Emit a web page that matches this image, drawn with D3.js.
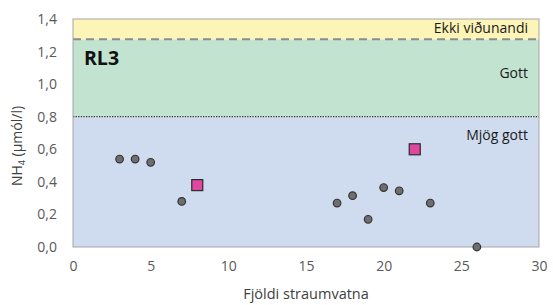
<!DOCTYPE html>
<html>
<head>
<meta charset="utf-8">
<script src="https://cdn.jsdelivr.net/npm/d3@7"></script>
<style>
  body { margin: 0; background: #fff; }
  text { font-family: "Open Sans", "Noto Sans", sans-serif; }
</style>
</head>
<body>
<div id="chart"></div>
<script>
// data
const siteX = [3, 4, 5, 7, 17, 18, 19, 20, 21, 23, 26];
const siteY = [0.54, 0.54, 0.52, 0.28, 0.27, 0.315, 0.17, 0.365, 0.345, 0.27, 0.0];
const refX = [8, 22];
const refY = [0.38, 0.6];
const xTicks = [0, 5, 10, 15, 20, 25, 30];
const yTicks = [0, 0.2, 0.4, 0.6, 0.8, 1.0, 1.2, 1.4];
const bands = [
    { from: 0, to: 0.8, color: '#cfdcef', label: 'Mjög gott' },
    { from: 0.8, to: 1.275, color: '#c2e3cf', label: 'Gott' },
    { from: 1.275, to: 1.4, color: '#fdf4b8', label: 'Ekki viðunandi' }
];

const width = 553, height = 305;
const margin = { top: 19, right: 14, bottom: 58, left: 73 };

const svg = d3.select('#chart').append('svg')
    .attr('width', width)
    .attr('height', height);

const x = d3.scaleLinear().domain([0, 30]).range([margin.left, width - margin.right]);
const y = d3.scaleLinear().domain([0, 1.4]).range([height - margin.bottom, margin.top]);

// background bands
svg.selectAll('rect.band')
    .data(bands)
    .enter()
    .append('rect')
    .attr('class', 'band')
    .attr('x', x(0))
    .attr('width', x(30) - x(0))
    .attr('y', d => y(d.to))
    .attr('height', d => y(d.from) - y(d.to))
    .attr('fill', d => d.color);

// border lines between bands
svg.append('line')
    .attr('x1', x(0)).attr('x2', x(30))
    .attr('y1', y(0.8)).attr('y2', y(0.8))
    .attr('stroke', '#333').attr('stroke-width', 1.3)
    .attr('stroke-dasharray', '1.3,1.3');
svg.append('line')
    .attr('x1', x(0)).attr('x2', x(30))
    .attr('y1', y(1.275)).attr('y2', y(1.275))
    .attr('stroke', '#8c8c8c').attr('stroke-width', 2)
    .attr('stroke-dasharray', '8,5');

// frame
svg.append('rect')
    .attr('x', x(0)).attr('y', y(1.4))
    .attr('width', x(30) - x(0)).attr('height', y(0) - y(1.4))
    .attr('fill', 'none')
    .attr('stroke', '#a6a6a6');

// band labels
svg.selectAll('text.band-label')
    .data(bands)
    .enter()
    .append('text')
    .attr('class', 'band-label')
    .attr('x', x(30) - 11)
    .attr('y', (d, i) => [140, 78, 33][i])
    .attr('text-anchor', 'end')
    .attr('font-size', 14)
    .attr('fill', '#1a1a1a')
    .text(d => d.label);

svg.append('text')
    .attr('x', x(0) + 11)
    .attr('y', 65)
    .attr('font-size', 19.5)
    .attr('font-weight', 'bold')
    .attr('fill', '#111')
    .text('RL3');

// axes
const xAxis = d3.axisBottom(x).tickValues(xTicks).tickSize(0).tickPadding(14);
const yAxis = d3.axisLeft(y).tickValues(yTicks).tickSize(0).tickPadding(16)
    .tickFormat(d => d3.format('.1f')(d).replace('.', ','));

const gx = svg.append('g')
    .attr('transform', `translate(0, ${y(0)})`)
    .call(xAxis);
const gy = svg.append('g')
    .attr('transform', `translate(${x(0)}, 0)`)
    .call(yAxis);
[gx, gy].forEach(g => {
    g.select('.domain').remove();
    g.selectAll('text').attr('font-size', 14).attr('fill', '#595959')
        .style('font-family', '"Open Sans", sans-serif');
});

svg.append('text')
    .attr('x', (x(0) + x(30)) / 2)
    .attr('y', 299)
    .attr('text-anchor', 'middle')
    .attr('font-size', 14.5)
    .attr('fill', '#404040')
    .text('Fjöldi straumvatna');

const yl = svg.append('text')
    .attr('transform', `translate(22, 146) rotate(-90)`)
    .attr('text-anchor', 'middle')
    .attr('font-size', 14)
    .attr('fill', '#404040');
yl.append('tspan').text('NH');
yl.append('tspan').attr('font-size', 9).attr('dy', 3).text('4');
yl.append('tspan').attr('dy', -3).text(' (µmól/l)');

// points
svg.selectAll('circle.site')
    .data(siteX.map((v, i) => [v, siteY[i]]))
    .enter()
    .append('circle')
    .attr('class', 'site')
    .attr('cx', d => x(d[0]))
    .attr('cy', d => y(d[1]))
    .attr('r', 3.8)
    .attr('fill', '#6e6e6e')
    .attr('stroke', '#333')
    .attr('stroke-width', 1.2);

const sq = 11;
svg.selectAll('rect.ref')
    .data(refX.map((v, i) => [v, refY[i]]))
    .enter()
    .append('rect')
    .attr('class', 'ref')
    .attr('x', d => x(d[0]) - sq / 2)
    .attr('y', d => y(d[1]) - sq / 2)
    .attr('width', sq)
    .attr('height', sq)
    .attr('fill', '#e0479e')
    .attr('stroke', '#2b2b2b')
    .attr('stroke-width', 1.2);
</script>
</body>
</html>
